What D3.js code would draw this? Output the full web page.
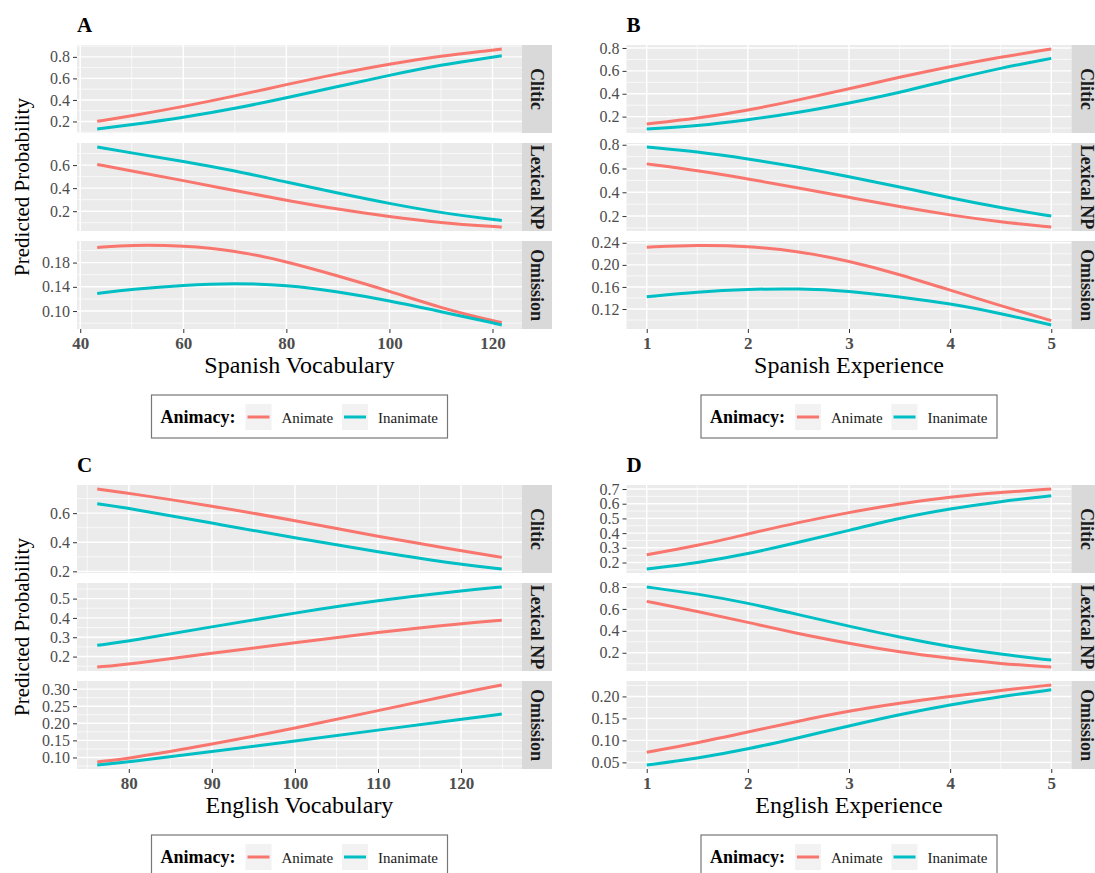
<!DOCTYPE html>
<html>
<head>
<meta charset="utf-8">
<script src="https://cdn.jsdelivr.net/npm/d3@7"></script>
<style>
  body { margin: 0; background: #fff; }
  text { font-family: 'Liberation Serif', 'Times New Roman', serif; }
</style>
</head>
<body>
<svg id="chart" width="1095" height="873"></svg>
<script>
// facet rows and groups
const facets = ['Clitic', 'Lexical NP', 'Omission'];
const groups = ['Animate', 'Inanimate'];
const groupColors = ['#F8766D', '#00BFC4'];

// A - Spanish vocabulary
const spVocabX = [43.3, 50, 60, 70, 80, 90, 100, 110, 120, 121.8];
const spVocabXTicks = [40, 60, 80, 100, 120];
const spVocabYTicks = [['0.2', '0.4', '0.6', '0.8'], ['0.2', '0.4', '0.6'], ['0.10', '0.14', '0.18']];
const spVocabCliticAnim = [0.201, 0.252, 0.338, 0.436, 0.543, 0.644, 0.734, 0.808, 0.862, 0.873];
const spVocabCliticInan = [0.130, 0.170, 0.236, 0.319, 0.419, 0.524, 0.630, 0.726, 0.798, 0.81];
const spVocabLexAnim = [0.606, 0.548, 0.466, 0.379, 0.294, 0.216, 0.152, 0.10, 0.066, 0.063];
const spVocabLexInan = [0.757, 0.705, 0.634, 0.551, 0.452, 0.357, 0.266, 0.186, 0.129, 0.12];
const spVocabOmAnim = [0.205, 0.209, 0.208, 0.200, 0.182, 0.158, 0.133, 0.105, 0.084, 0.081];
const spVocabOmInan = [0.129, 0.136, 0.143, 0.146, 0.143, 0.132, 0.117, 0.099, 0.081, 0.077];

// B - Spanish experience
const spExpX = [1, 1.5, 2, 2.5, 3, 3.5, 4, 4.5, 5];
const spExpXTicks = [1, 2, 3, 4, 5];
const spExpYTicks = [['0.2', '0.4', '0.6', '0.8'], ['0.2', '0.4', '0.6', '0.8'], ['0.12', '0.16', '0.20', '0.24']];
const spExpCliticAnim = [0.136, 0.183, 0.255, 0.345, 0.443, 0.545, 0.638, 0.72, 0.791];
const spExpCliticInan = [0.092, 0.118, 0.171, 0.235, 0.318, 0.41, 0.522, 0.625, 0.709];
const spExpLexAnim = [0.639, 0.583, 0.514, 0.437, 0.358, 0.278, 0.208, 0.15, 0.108];
const spExpLexInan = [0.781, 0.742, 0.681, 0.612, 0.533, 0.445, 0.353, 0.27, 0.2];
const spExpOmAnim = [0.232, 0.236, 0.234, 0.225, 0.207, 0.183, 0.154, 0.126, 0.099];
const spExpOmInan = [0.142, 0.151, 0.156, 0.157, 0.153, 0.142, 0.130, 0.112, 0.091];

// C - English vocabulary
const enVocabX = [76.2, 80, 90, 100, 110, 120, 124.9];
const enVocabXTicks = [80, 90, 100, 110, 120];
const enVocabYTicks = [['0.2', '0.4', '0.6'], ['0.2', '0.3', '0.4', '0.5'], ['0.10', '0.15', '0.20', '0.25', '0.30']];
const enVocabCliticAnim = [0.766, 0.737, 0.65, 0.549, 0.44, 0.342, 0.296];
const enVocabCliticInan = [0.664, 0.634, 0.532, 0.429, 0.333, 0.246, 0.216];
const enVocabLexAnim = [0.146, 0.160, 0.217, 0.272, 0.326, 0.371, 0.388];
const enVocabLexInan = [0.258, 0.28, 0.354, 0.426, 0.491, 0.541, 0.56];
const enVocabOmAnim = [0.087, 0.097, 0.139, 0.185, 0.237, 0.289, 0.312];
const enVocabOmInan = [0.078, 0.087, 0.117, 0.148, 0.18, 0.212, 0.227];

// D - English experience
const enExpX = [1, 1.5, 2, 2.5, 3, 3.5, 4, 4.5, 5];
const enExpXTicks = [1, 2, 3, 4, 5];
const enExpYTicks = [['0.2', '0.3', '0.4', '0.5', '0.6', '0.7'], ['0.2', '0.4', '0.6', '0.8'], ['0.05', '0.10', '0.15', '0.20']];
const enExpCliticAnim = [0.253, 0.314, 0.394, 0.473, 0.541, 0.6, 0.646, 0.677, 0.70];
const enExpCliticInan = [0.156, 0.197, 0.258, 0.337, 0.418, 0.503, 0.566, 0.616, 0.654];
const enExpLexAnim = [0.669, 0.578, 0.478, 0.373, 0.285, 0.205, 0.148, 0.10, 0.07];
const enExpLexInan = [0.80, 0.739, 0.654, 0.548, 0.442, 0.342, 0.255, 0.185, 0.133];
const enExpOmAnim = [0.073, 0.094, 0.119, 0.144, 0.167, 0.185, 0.2, 0.214, 0.226];
const enExpOmInan = [0.044, 0.059, 0.08, 0.106, 0.133, 0.159, 0.181, 0.2, 0.215];

const panels = [
  { tag: 'A', col: 0, row: 0, xTitle: 'Spanish Vocabulary', x: spVocabX, xTicks: spVocabXTicks, yTicks: spVocabYTicks,
    series: [[spVocabCliticAnim, spVocabCliticInan], [spVocabLexAnim, spVocabLexInan], [spVocabOmAnim, spVocabOmInan]] },
  { tag: 'B', col: 1, row: 0, xTitle: 'Spanish Experience', x: spExpX, xTicks: spExpXTicks, yTicks: spExpYTicks,
    series: [[spExpCliticAnim, spExpCliticInan], [spExpLexAnim, spExpLexInan], [spExpOmAnim, spExpOmInan]] },
  { tag: 'C', col: 0, row: 1, xTitle: 'English Vocabulary', x: enVocabX, xTicks: enVocabXTicks, yTicks: enVocabYTicks,
    series: [[enVocabCliticAnim, enVocabCliticInan], [enVocabLexAnim, enVocabLexInan], [enVocabOmAnim, enVocabOmInan]] },
  { tag: 'D', col: 1, row: 1, xTitle: 'English Experience', x: enExpX, xTicks: enExpXTicks, yTicks: enExpYTicks,
    series: [[enExpCliticAnim, enExpCliticInan], [enExpLexAnim, enExpLexInan], [enExpOmAnim, enExpOmInan]] }
];

// layout (per panel group)
const L = 77, R = 522, stripW = 30;
const facetTop = [45, 143, 241], facetH = 88;
const serif = "'Liberation Serif', 'Times New Roman', serif";

const svg = d3.select('#chart');

// minor breaks halfway between majors, kept inside the limits
function minorBreaks(ticks, domain) {
  const step = ticks[1] - ticks[0];
  const out = [];
  for (let v = ticks[0] - step / 2; v <= domain[1] + 1e-9; v += step) {
    if (v >= domain[0]) out.push(v);
  }
  return out;
}

function expand(ext) {
  const pad = (ext[1] - ext[0]) * 0.05;
  return [ext[0] - pad, ext[1] + pad];
}

function drawPanel(p) {
  const g = svg.append('g').attr('transform', `translate(${p.col * 549.5},${p.row * 440})`);
  const xDom = expand(d3.extent(p.x));
  const x = d3.scaleLinear().domain(xDom).range([L, R]);
  const xMinor = minorBreaks(p.xTicks, xDom);

  g.append('text')
    .attr('x', L).attr('y', 32)
    .style('font-size', '21px').style('font-weight', 'bold').style('fill', '#000')
    .text(p.tag);

  facets.forEach((f, i) => {
    const top = facetTop[i];
    const ticks = p.yTicks[i].map(Number);
    const yDom = expand(d3.extent(p.series[i].flat()));
    const y = d3.scaleLinear().domain(yDom).range([top + facetH, top]);
    const fg = g.append('g');

    fg.append('rect')
      .attr('x', L).attr('y', top).attr('width', R - L).attr('height', facetH)
      .attr('fill', '#EBEBEB');

    // grid
    fg.selectAll('.ymin').data(minorBreaks(ticks, yDom)).enter().append('line')
      .attr('x1', L).attr('x2', R).attr('y1', d => y(d)).attr('y2', d => y(d))
      .attr('stroke', '#fff').attr('stroke-width', 0.7);
    fg.selectAll('.xmin').data(xMinor).enter().append('line')
      .attr('y1', top).attr('y2', top + facetH).attr('x1', d => x(d)).attr('x2', d => x(d))
      .attr('stroke', '#fff').attr('stroke-width', 0.7);
    fg.selectAll('.ymaj').data(ticks).enter().append('line')
      .attr('x1', L).attr('x2', R).attr('y1', d => y(d)).attr('y2', d => y(d))
      .attr('stroke', '#fff').attr('stroke-width', 1.4);
    fg.selectAll('.xmaj').data(p.xTicks).enter().append('line')
      .attr('y1', top).attr('y2', top + facetH).attr('x1', d => x(d)).attr('x2', d => x(d))
      .attr('stroke', '#fff').attr('stroke-width', 1.4);

    // curves
    const line = d3.line()
      .x((d, j) => x(p.x[j]))
      .y(d => y(d))
      .curve(d3.curveBasis);
    p.series[i].forEach((vals, k) => {
      fg.append('path')
        .attr('d', line(vals))
        .attr('fill', 'none')
        .attr('stroke', groupColors[k])
        .attr('stroke-width', 3);
    });

    // y axis
    const ya = fg.append('g')
      .attr('transform', `translate(${L},0)`)
      .call(d3.axisLeft(y).tickValues(ticks).tickFormat((d, j) => p.yTicks[i][j]).tickSize(4).tickPadding(3));
    ya.attr('font-family', serif).attr('font-size', 16);
    ya.select('.domain').remove();
    ya.selectAll('line').attr('stroke', '#333');
    ya.selectAll('text').style('font-size', '16px').style('fill', '#4D4D4D').style('font-family', serif);

    // strip
    fg.append('rect')
      .attr('x', R).attr('y', top).attr('width', stripW).attr('height', facetH)
      .attr('fill', '#D9D9D9');
    fg.append('text')
      .attr('transform', `translate(${R + stripW / 2},${top + facetH / 2}) rotate(90)`)
      .attr('text-anchor', 'middle').attr('dominant-baseline', 'central')
      .style('font-size', '18px').style('font-weight', 'bold').style('fill', '#1A1A1A')
      .text(f);
  });

  // x axis
  const bottom = facetTop[2] + facetH;
  const xa = g.append('g')
    .attr('transform', `translate(0,${bottom})`)
    .call(d3.axisBottom(x).tickValues(p.xTicks).tickFormat(d3.format('d')).tickSize(4).tickPadding(4));
  xa.attr('font-family', serif).attr('font-size', 17);
  xa.select('.domain').remove();
  xa.selectAll('line').attr('stroke', '#333');
  xa.selectAll('text').style('font-size', '17px').style('font-weight', 'bold').style('fill', '#4D4D4D')
    .style('font-family', serif);

  g.append('text')
    .attr('x', (L + R) / 2).attr('y', 373)
    .attr('text-anchor', 'middle')
    .style('font-size', '24px').style('fill', '#000')
    .text(p.xTitle);

  if (p.col === 0) {
    g.append('text')
      .attr('transform', `translate(29,${(facetTop[0] + bottom) / 2}) rotate(-90)`)
      .attr('text-anchor', 'middle')
      .style('font-size', '21px').style('fill', '#000')
      .text('Predicted Probability');
  }

  // legend
  const lw = 296, lh = 43;
  const lx = (L + R) / 2 - lw / 2, ly = 395;
  const lg = g.append('g').attr('transform', `translate(${lx},${ly})`);
  lg.append('rect')
    .attr('width', lw).attr('height', lh)
    .attr('fill', '#fff').attr('stroke', '#777').attr('stroke-width', 1.2);
  lg.append('text')
    .attr('x', 9).attr('y', 28)
    .style('font-size', '18px').style('font-weight', 'bold').style('fill', '#000')
    .text('Animacy:');
  const keyX = [94, 190.5];
  groups.forEach((gr, k) => {
    lg.append('rect')
      .attr('x', keyX[k]).attr('y', 9).attr('width', 26).attr('height', 26)
      .attr('fill', '#F2F2F2');
    lg.append('line')
      .attr('x1', keyX[k] + 2).attr('x2', keyX[k] + 24).attr('y1', 22).attr('y2', 22)
      .attr('stroke', groupColors[k]).attr('stroke-width', 3);
    lg.append('text')
      .attr('x', keyX[k] + 36).attr('y', 27.5)
      .style('font-size', '15px').style('fill', '#1A1A1A')
      .text(gr);
  });
}

panels.forEach(drawPanel);
</script>
</body>
</html>
